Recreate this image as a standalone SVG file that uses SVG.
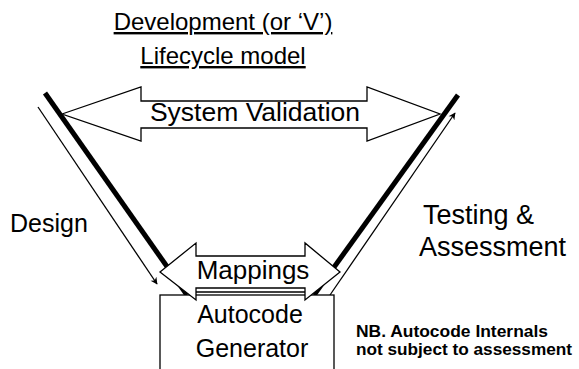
<svg xmlns="http://www.w3.org/2000/svg" width="579" height="369" viewBox="0 0 579 369">
  <defs>
    <marker id="head" viewBox="0 0 10 10" refX="9" refY="5" markerWidth="9" markerHeight="7" markerUnits="userSpaceOnUse" orient="auto">
      <path d="M0,0 L10,5 L0,10 L3,5 Z" fill="#000"/>
    </marker>
    <style>
      text { font-family: "Liberation Sans", Arial, sans-serif; fill: #000; }
      .title { font-size: 24px; text-decoration: underline; }
      .note { font-size: 16px; font-weight: bold; }
      .block { fill: #fff; stroke: #000; stroke-width: 1.3; }
      .spine { stroke: #000; stroke-width: 5; fill: none; }
      .flow { stroke: #000; stroke-width: 1.3; fill: none; marker-end: url(#head); }
      .rule { stroke: #000; stroke-width: 1.3; }
    </style>
  </defs>
  <rect width="579" height="369" fill="#fff"/>

  <g id="title">
    <text class="title" x="223" y="30" text-anchor="middle">Development (or ‘V’)</text>
    <text class="title" x="223" y="64" text-anchor="middle">Lifecycle model</text>
  </g>

  <g id="connectors">
    <!-- the two arms of the V -->
    <line class="spine" x1="45" y1="93" x2="187" y2="295"/>
    <line class="spine" x1="458" y1="95" x2="314" y2="295"/>
    <!-- design flows down, testing flows up -->
    <line class="flow" x1="38" y1="107" x2="157" y2="284"/>
    <line class="flow" x1="330" y1="295" x2="455" y2="113"/>
  </g>

  <g id="design-label">
    <text x="10" y="232" font-size="25">Design</text>
  </g>

  <g id="testing-label">
    <text x="423" y="224" font-size="27">Testing &amp;</text>
    <text x="419" y="256" font-size="27">Assessment</text>
  </g>

  <g id="system-validation">
    <polygon class="block" points="62,114 141,87 141,101 367,101 367,87 440,114 367,141 367,128 141,128 141,141"/>
    <text x="255" y="121" font-size="26.5" text-anchor="middle">System Validation</text>
  </g>

  <g id="autocode-generator">
    <rect class="block" x="160" y="295" width="174" height="90"/>
    <text x="250" y="323" font-size="25" text-anchor="middle">Autocode</text>
    <text x="252" y="357" font-size="25" text-anchor="middle">Generator</text>
  </g>

  <g id="mappings">
    <polygon class="block" points="160,272 196,243 196,256 305,256 305,243 340,272 305,300 305,288 196,288 196,300"/>
    <line class="rule" x1="196" y1="292" x2="305" y2="292"/>
    <text x="253" y="279" font-size="26" text-anchor="middle">Mappings</text>
  </g>

  <g id="note">
    <text class="note" x="356" y="337" textLength="192" lengthAdjust="spacingAndGlyphs">NB. Autocode Internals</text>
    <text class="note" x="356" y="355" textLength="216" lengthAdjust="spacingAndGlyphs">not subject to assessment</text>
  </g>
</svg>
